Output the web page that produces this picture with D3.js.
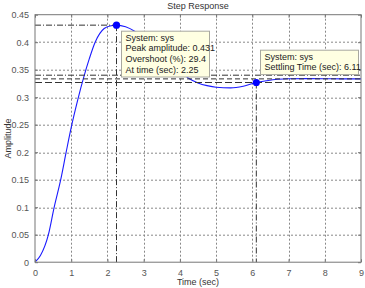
<!DOCTYPE html>
<html>
<head>
<meta charset="utf-8">
<script src="https://cdn.jsdelivr.net/npm/d3@7"></script>
<style>
	body { margin: 0; background: #fff; }
	svg { display: block; font-family: "Liberation Sans", Arial, sans-serif; }
	.tick-label { fill: #555; font-size: 9px; }
	.grid { stroke: #888; stroke-width: 1; stroke-dasharray: 2,2; fill: none; }
	.marker-line { stroke: #333; stroke-width: 1; fill: none; }
	.tip rect { fill: #ffffe2; stroke: #a8a8a0; stroke-width: 1; }
	.tip text { fill: #222; font-size: 9px; }
</style>
</head>
<body>
<div id="chart"></div>
<script>
'use strict';

// Step response
var times = [0, 0.15, 0.37, 0.53, 0.71, 0.86, 1.0, 1.18, 1.34, 1.5, 1.66, 1.91, 2.1, 2.25,
	2.5, 2.75, 3.0, 3.25, 3.5, 3.75, 4.0, 4.25, 4.5, 4.75, 5.0, 5.4, 5.75, 6.11,
	6.4, 6.7, 7.0, 7.5, 8.0, 8.5, 9.0];
var amplitudes = [0, 0.012, 0.05, 0.10, 0.15, 0.20, 0.245, 0.295, 0.335, 0.37, 0.40, 0.425, 0.430, 0.431,
	0.428, 0.420, 0.407, 0.392, 0.377, 0.362, 0.347, 0.334, 0.326, 0.321, 0.318, 0.317, 0.320, 0.3267,
	0.330, 0.3325, 0.3336, 0.3337, 0.3336, 0.3334, 0.3334];

var xTicks = [0, 1, 2, 3, 4, 5, 6, 7, 8, 9];
var yTicks = [0, 0.05, 0.1, 0.15, 0.2, 0.25, 0.3, 0.35, 0.4, 0.45];

var peak = {time: 2.25, amplitude: 0.431, overshoot: 29.4};
var settling = {time: 6.11, amplitude: 0.3267};
var finalValue = 0.3333;
var settleBand = [0.3267, 0.340];

var peakTip = ['System: sys', 'Peak amplitude: 0.431', 'Overshoot (%): 29.4', 'At time (sec): 2.25'];
var settleTip = ['System: sys', 'Settling Time (sec): 6.11'];

var W = 365, H = 288;
var margin = {top: 14.7, right: 4, bottom: 25.8, left: 35};
var width = W - margin.left - margin.right;
var height = H - margin.top - margin.bottom;

var svg = d3.select('#chart').append('svg')
	.attr('width', W)
	.attr('height', H);
var view = svg.append('g')
	.attr('transform', 'translate(' + margin.left + ',' + margin.top + ')');

var xScale = d3.scaleLinear().domain([0, 9]).range([0, width]);
var yScale = d3.scaleLinear().domain([0, 0.45]).range([height, 0]);

// grid
view.append('g').selectAll('line')
	.data(xTicks.slice(1, -1))
	.enter().append('line')
		.attr('class', 'grid')
		.attr('x1', function(d) { return Math.round(xScale(d)) + 0.5; })
		.attr('x2', function(d) { return Math.round(xScale(d)) + 0.5; })
		.attr('y1', 0)
		.attr('y2', height);
view.append('g').selectAll('line')
	.data(yTicks.slice(1, -1))
	.enter().append('line')
		.attr('class', 'grid')
		.attr('x1', 0)
		.attr('x2', width)
		.attr('y1', function(d) { return Math.round(yScale(d)) + 0.5; })
		.attr('y2', function(d) { return Math.round(yScale(d)) + 0.5; });

// response curve
var line = d3.line()
	.x(function(d) { return xScale(d[0]); })
	.y(function(d) { return yScale(d[1]); })
	.curve(d3.curveMonotoneX);
view.append('path')
	.datum(d3.zip(times, amplitudes))
	.attr('d', line)
	.attr('fill', 'none')
	.attr('stroke', '#1a1aff')
	.attr('stroke-width', 1.1);

// characteristic lines
var dashDot = '6,2,1,2';
view.append('line').attr('class', 'marker-line')
	.attr('stroke-dasharray', dashDot)
	.attr('x1', 0).attr('x2', xScale(peak.time))
	.attr('y1', yScale(peak.amplitude)).attr('y2', yScale(peak.amplitude));
view.append('line').attr('class', 'marker-line')
	.attr('stroke-dasharray', dashDot)
	.attr('x1', xScale(peak.time)).attr('x2', xScale(peak.time))
	.attr('y1', yScale(peak.amplitude)).attr('y2', height);
view.append('line').attr('class', 'marker-line')
	.attr('stroke-dasharray', dashDot)
	.attr('x1', xScale(settling.time)).attr('x2', xScale(settling.time))
	.attr('y1', yScale(settling.amplitude)).attr('y2', height);
view.append('line').attr('class', 'marker-line')
	.attr('stroke-dasharray', dashDot)
	.attr('x1', 0).attr('x2', width)
	.attr('y1', yScale(settleBand[1])).attr('y2', yScale(settleBand[1]));
view.append('line').attr('class', 'marker-line')
	.attr('stroke-dasharray', '5,3')
	.attr('stroke', '#555')
	.attr('stroke-width', 1.3)
	.attr('x1', 0).attr('x2', width)
	.attr('y1', yScale(finalValue)).attr('y2', yScale(finalValue));
view.append('line').attr('class', 'marker-line')
	.attr('stroke-dasharray', '7,3')
	.attr('x1', 0).attr('x2', width)
	.attr('y1', yScale(settleBand[0])).attr('y2', yScale(settleBand[0]));

// axes box with inward ticks
var axisColor = '#777';
function styleAxis(g) {
	g.select('.domain').remove();
	g.selectAll('.tick line').attr('stroke', axisColor);
	g.selectAll('.tick text').attr('class', 'tick-label').attr('fill', null);
}
view.append('g')
	.attr('transform', 'translate(0,' + height + ')')
	.call(d3.axisBottom(xScale).tickValues(xTicks).tickFormat(d3.format('d')).tickSizeInner(-3).tickPadding(7))
	.call(styleAxis);
view.append('g')
	.call(d3.axisTop(xScale).tickValues(xTicks).tickFormat('').tickSizeInner(-3))
	.call(styleAxis);
view.append('g')
	.call(d3.axisLeft(yScale).tickValues(yTicks).tickFormat(function(d) { return d3.format('')(+d.toFixed(2)); }).tickSizeInner(-3).tickPadding(6))
	.call(styleAxis);
view.append('g')
	.attr('transform', 'translate(' + width + ',0)')
	.call(d3.axisRight(yScale).tickValues(yTicks).tickFormat('').tickSizeInner(-3))
	.call(styleAxis);
view.selectAll('.tick text').attr('font-size', 9).attr('font-family', null);
view.append('rect')
	.attr('x', 0).attr('y', 0)
	.attr('width', width).attr('height', height)
	.attr('fill', 'none')
	.attr('stroke', axisColor);

// data tips
function addTip(x, y, w, lines) {
	var g = view.append('g').attr('class', 'tip')
		.attr('transform', 'translate(' + x + ',' + y + ')');
	g.append('rect')
		.attr('width', w)
		.attr('height', lines.length * 10.7 + 3);
	g.selectAll('text')
		.data(lines)
		.enter().append('text')
			.attr('x', 4)
			.attr('y', function(d, i) { return 9.5 + i * 10.7; })
			.text(function(d) { return d; });
}
addTip(Math.round(xScale(peak.time)) + 4.5, Math.round(yScale(peak.amplitude)) + 6.5, 88, peakTip);
addTip(Math.round(xScale(settling.time)) + 4.5, Math.round(yScale(settling.amplitude)) - 32.5, 98, settleTip);

// markers
view.selectAll('circle.pt')
	.data([[peak.time, peak.amplitude], [settling.time, settling.amplitude]])
	.enter().append('circle')
		.attr('class', 'pt')
		.attr('cx', function(d) { return xScale(d[0]); })
		.attr('cy', function(d) { return yScale(d[1]); })
		.attr('r', 3.6)
		.attr('fill', '#0000ff');

// labels
svg.append('text')
	.attr('x', margin.left + width / 2)
	.attr('y', 9)
	.attr('text-anchor', 'middle')
	.attr('font-size', 9)
	.attr('fill', '#333')
	.text('Step Response');
svg.append('text')
	.attr('x', margin.left + width / 2)
	.attr('y', 285)
	.attr('text-anchor', 'middle')
	.attr('font-size', 9)
	.attr('fill', '#333')
	.text('Time (sec)');
svg.append('text')
	.attr('transform', 'translate(11,' + (margin.top + height / 2) + ') rotate(-90)')
	.attr('text-anchor', 'middle')
	.attr('font-size', 9)
	.attr('fill', '#333')
	.text('Amplitude');
</script>
</body>
</html>
